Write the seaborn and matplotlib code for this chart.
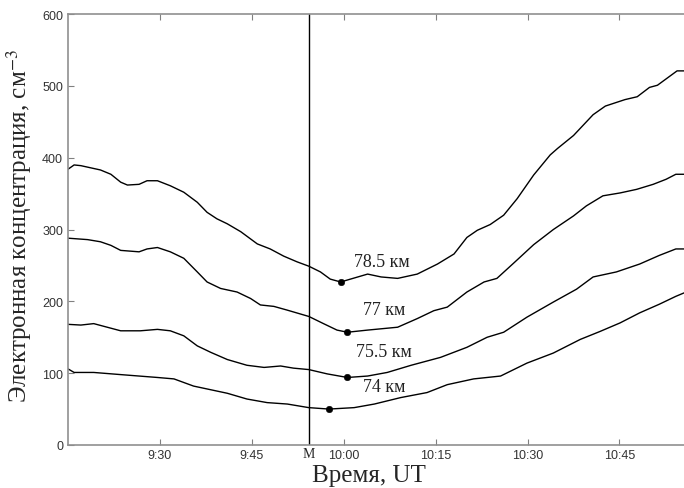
import numpy as np
import pandas as pd
import matplotlib
matplotlib.use("Agg")
import matplotlib.pyplot as plt
import seaborn as sns

# time in minutes after 9:15 UT, concentration in cm^-3
t_785 = [0.0, 1.0, 2.1, 5.3, 7.0, 8.6, 9.7, 11.6, 12.9, 14.6, 16.7, 18.9, 21.1, 22.7, 24.3, 26.0,
         28.2, 30.9, 33.0, 35.2, 37.4, 39.3, 41.2, 42.8, 44.5, 48.9, 51.1, 53.8, 57.0, 60.3, 63.0,
         65.1, 66.8, 68.9, 71.1, 73.3, 76.0, 78.7, 79.9, 82.5, 85.7, 87.7, 90.9, 92.9, 94.9, 96.2,
         99.4, 100.6]
n_785 = [384, 390, 389, 383, 377, 366, 362, 363, 368, 368, 361, 352, 338, 324, 315, 308,
         297, 280, 273, 263, 255, 249, 241, 231, 227, 238, 234, 232, 238, 252, 266,
         289, 299, 307, 320, 343, 376, 404, 413, 431, 460, 472, 481, 485, 498, 501,
         521, 521]

t_77 = [0.0, 3.2, 5.3, 7.0, 8.6, 11.6, 12.9, 14.6, 16.7, 18.9, 21.1, 22.7, 24.9, 27.6, 29.8, 31.4,
        33.6, 35.7, 39.3, 41.7, 43.9, 45.6, 48.9, 53.8, 57.0, 59.7, 61.9, 65.1, 67.9, 70.0, 72.7,
        76.0, 79.2, 82.5, 84.6, 87.3, 90.1, 92.8, 95.5, 97.6, 99.2, 100.6]
n_77 = [288, 286, 283, 278, 271, 269, 273, 275, 269, 260, 241, 227, 218, 213, 204, 195,
        193, 188, 179, 169, 160, 157, 160, 164, 176, 187, 192, 213, 227, 232, 253,
        279, 300, 319, 333, 347, 351, 356, 363, 370, 377, 377]

t_755 = [0.0, 2.1, 4.2, 6.4, 8.6, 11.8, 14.6, 16.7, 18.9, 21.1, 23.3, 26.0, 29.2, 32.0, 34.7, 36.8,
         39.3, 42.3, 45.6, 48.9, 52.1, 56.0, 60.8, 65.1, 68.4, 71.1, 74.9, 79.2, 83.0, 85.7,
         89.5, 93.3, 96.5, 99.2, 100.6]
n_755 = [168, 167, 169, 164, 159, 159, 161, 159, 152, 138, 129, 119, 111, 108, 110, 107,
         105, 99, 94, 96, 101, 111, 122, 136, 150, 157, 178, 199, 217, 234,
         241, 252, 264, 273, 273]

t_74 = [0.0, 1.0, 4.2, 8.6, 14.6, 17.3, 20.5, 23.8, 26.0, 29.2, 32.5, 35.8, 39.3, 42.6, 46.7,
        50.0, 54.3, 58.6, 61.9, 66.2, 70.6, 74.9, 79.2, 83.6, 86.8, 90.1, 93.3, 96.5, 99.2, 100.6]
n_74 = [106, 101, 101, 98, 94, 92, 82, 76, 72, 64, 59, 57, 52, 50, 52,
        57, 66, 73, 84, 92, 96, 114, 128, 147, 158, 170, 184, 196, 207, 212]

heights = ["78.5 км", "77 км", "75.5 км", "74 км"]
min_t = [44.5, 45.6, 45.6, 42.6]
min_n = [227, 157, 94, 50]
label_t = [46.7, 48.1, 47.0, 48.1]
label_n = [255, 189, 130, 81]

tick_t = [15, 30, 45, 60, 75, 90]
tick_lbl = ["9:30", "9:45", "10:00", "10:15", "10:30", "10:45"]
m_time = 39.3

df = pd.concat([
    pd.DataFrame({"t": t, "n": n, "h": h})
    for t, n, h in zip([t_785, t_77, t_755, t_74], [n_785, n_77, n_755, n_74], heights)
])

sns.set_style("white")
plt.rcParams["font.family"] = ["Liberation Sans", "DejaVu Sans"]
plt.rcParams["mathtext.fontset"] = "stix"

fig = plt.figure(figsize=(6.84, 4.89), dpi=100)
ax = fig.add_axes([0.0994, 0.088, 0.903, 0.881])

sns.lineplot(data=df, x="t", y="n", hue="h", palette=["black"] * 4, legend=False,
             estimator=None, sort=False, linewidth=1.0, ax=ax)
sns.scatterplot(x=min_t, y=min_n, color="black", s=22, edgecolor="black", zorder=5, ax=ax)

for x, y, s in zip(label_t, label_n, heights):
    ax.text(x, y, s, fontsize=13, family="Liberation Serif", color="#222222",
            ha="left", va="center")

ax.axvline(m_time, color="black", linewidth=1.0)
ax.text(m_time, -3, "M", fontsize=10, family="Liberation Serif", ha="center", va="top",
        clip_on=False)

ax.set_xlim(0, 100.8)
ax.set_ylim(0, 600)
ax.set_xticks(tick_t)
ax.set_xticklabels(tick_lbl)
ax.set_yticks(range(0, 601, 100))
ax.tick_params(axis="both", direction="in", length=4, labelsize=9, colors="#808080",
               labelcolor="#333333", top=True, bottom=True, left=True)
ax.tick_params(axis="x", pad=3)
for side in ["left", "bottom", "top"]:
    ax.spines[side].set_color("#909090")
    ax.spines[side].set_linewidth(1.2)
ax.spines["right"].set_visible(False)

ax.set_xlabel("Время, UT", fontsize=18, family="Liberation Serif")
ax.set_ylabel("Электронная концентрация, см$^{-3}$", fontsize=18,
              family="Liberation Serif")
ax.xaxis.set_label_coords(0.487, -0.044)
ax.xaxis.label.set_va("top")
ax.yaxis.set_label_coords(-0.055, 0.51)

fig.savefig("out.png", dpi=100)
